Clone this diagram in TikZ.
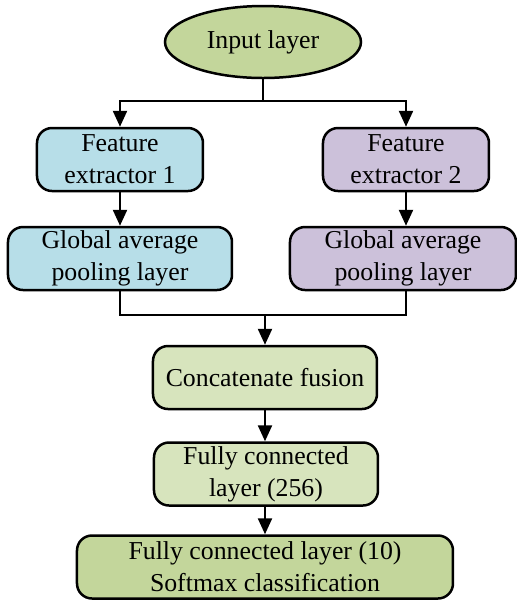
\documentclass[tikz,border=0pt]{standalone}
\usepackage{fontspec}
\setmainfont{Liberation Serif}
\usepackage{xcolor}
\usetikzlibrary{arrows.meta,shapes.geometric}
\definecolor{olvGreen}{RGB}{195,214,155}
\definecolor{olvGreenLight}{RGB}{215,228,189}
\definecolor{aquaLight}{RGB}{183,222,232}
\definecolor{purpleLight}{RGB}{204,193,218}

\tikzset{
    blockbox/.style={draw=black, line width=1.25pt, rounded corners=7.5pt, align=center,
        inner sep=0pt, minimum height=31.5pt, font=\fontsize{12.9}{16}\selectfont},
    flowline/.style={line width=1.2pt},
    flowarrow/.style={line width=1.2pt, -{Triangle[length=8pt,width=7pt]}}
}

\begin{document}
\begin{tikzpicture}[x=0.5pt,y=-0.5pt]
\useasboundingbox (0,0) rectangle (517,602);

% =========================
% Input and the two branches
% =========================
\node[ellipse, draw=black, line width=1.25pt, fill=olvGreen, minimum width=98pt,
    minimum height=36pt, inner sep=0pt, font=\fontsize{12.9}{16}\selectfont]
    (input) at (263,42) {Input layer};

\node[blockbox, fill=aquaLight, minimum width=83pt] (fe1) at (120,159.5) {Feature\\extractor 1};
\node[blockbox, fill=purpleLight, minimum width=83pt] (fe2) at (406,159.5) {Feature\\extractor 2};

\node[blockbox, fill=aquaLight, minimum width=112pt] (gap1) at (120,258.5) {Global average\\pooling layer};
\node[blockbox, fill=purpleLight, minimum width=113pt] (gap2) at (403,258.5) {Global average\\pooling layer};

% =========================
% Fusion and classifier
% =========================
\node[blockbox, fill=olvGreenLight, minimum width=112pt] (concat) at (265,377.5) {Concatenate fusion};
\node[blockbox, fill=olvGreenLight, minimum width=112pt] (fc256) at (266,474) {Fully connected\\layer (256)};
\node[blockbox, fill=olvGreen, minimum width=188pt] (fc10) at (265,567) {Fully connected layer (10)\\Softmax classification};

% split and merge points
\coordinate (split) at (263,101);
\coordinate (merge) at (265,315);

\draw[flowline] (input.south) -- (split);
\draw[flowarrow] (split) -| (fe1.north);
\draw[flowarrow] (split) -| (fe2.north);

\draw[flowarrow] (fe1) -- (fe1 |- gap1.north);
\draw[flowarrow] (fe2) -- (fe2 |- gap2.north);

\draw[flowline] (fe1 |- gap1.south) |- (merge);
\draw[flowline] (fe2 |- gap2.south) |- (merge);
\draw[flowarrow] (merge) -- (concat.north);

\draw[flowarrow] (concat) -- (concat |- fc256.north);
\draw[flowarrow] (concat |- fc256.south) -- (concat |- fc10.north);

\end{tikzpicture}
\end{document}
